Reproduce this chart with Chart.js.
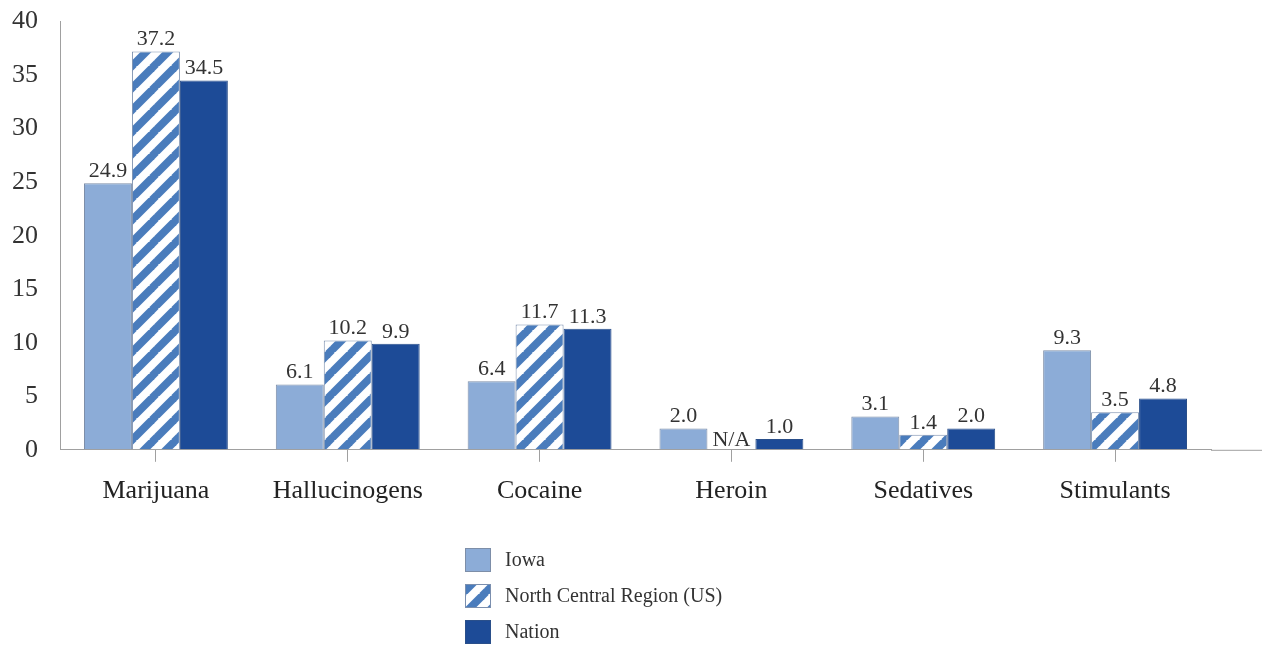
<!DOCTYPE html>
<html>
<head>
<meta charset="utf-8">
<title>Drug use</title>
<script src="https://cdn.jsdelivr.net/npm/chart.js@4/dist/chart.umd.min.js"></script>
<style>
  html, body { margin: 0; padding: 0; background: #fff; }
  #chart { display: block; }
</style>
</head>
<body>
<canvas id="chart" width="1262" height="648"></canvas>
<script>
const categories = ['Marijuana', 'Hallucinogens', 'Cocaine', 'Heroin', 'Sedatives', 'Stimulants'];
const iowa = [24.9, 6.1, 6.4, 2.0, 3.1, 9.3];
const northCentral = [37.2, 10.2, 11.7, null, 1.4, 3.5];   // no heroin figure for the region
const nation = [34.5, 9.9, 11.3, 1.0, 2.0, 4.8];
const seriesNames = ['Iowa', 'North Central Region (US)', 'Nation'];
const yMax = 40;
const yStep = 5;

const serif = "'Liberation Serif', 'Times New Roman', serif";
const axisGray = '#a0a0a0';

// diagonal "/" stripes, blue on white
function stripes(fg, bg, size) {
    const c = document.createElement('canvas');
    c.width = size;
    c.height = size;
    const g = c.getContext('2d');
    g.fillStyle = bg;
    g.fillRect(0, 0, size, size);
    g.strokeStyle = fg;
    g.lineWidth = size / (2 * Math.SQRT2);
    for (let k = -1; k <= 1; k++) {
        g.beginPath();
        g.moveTo(k * size - 2, size + 2);
        g.lineTo(k * size + size + 2, -2);
        g.stroke();
    }
    return g.createPattern(c, 'repeat');
}

const ctx = document.getElementById('chart').getContext('2d');
const stripeFill = stripes('#4a7cbc', '#ffffff', 22);

// numbers above each bar, N/A where there is no value
const valueLabels = {
    id: 'valueLabels',
    afterDatasetsDraw(chart) {
        const c = chart.ctx;
        c.save();
        c.font = '22px ' + serif;
        c.fillStyle = '#333';
        c.textAlign = 'center';
        c.textBaseline = 'bottom';
        chart.data.datasets.forEach((ds, i) => {
            chart.getDatasetMeta(i).data.forEach((bar, j) => {
                const v = ds.data[j];
                if (v === null) {
                    c.fillText('N/A', bar.x, chart.scales.y.getPixelForValue(0) + 1);
                } else {
                    c.fillText(v.toFixed(1), bar.x, bar.y - 1);
                }
            });
        });
        c.restore();
    }
};

// baseline runs on past the last category, legend stacked under the axis
const extras = {
    id: 'extras',
    afterDraw(chart) {
        const c = chart.ctx;
        const area = chart.chartArea;
        c.save();
        c.strokeStyle = axisGray;
        c.lineWidth = 1;
        c.beginPath();
        c.moveTo(area.right, area.bottom + 0.5);
        c.lineTo(chart.width, area.bottom + 0.5);
        c.stroke();

        c.font = '20px ' + serif;
        c.textAlign = 'left';
        c.textBaseline = 'middle';
        chart.data.datasets.forEach((ds, i) => {
            const y = 560 + i * 36;
            c.fillStyle = ds.backgroundColor;
            c.fillRect(465, y - 12, 26, 24);
            c.strokeStyle = ds.borderColor;
            c.strokeRect(465.5, y - 11.5, 25, 23);
            c.fillStyle = '#333';
            c.fillText(ds.label, 505, y + 1);
        });
        c.restore();
    }
};

const drugChart = new Chart(ctx, {
    type: 'bar',
    data: {
        labels: categories,
        datasets: [{
            label: seriesNames[0],
            data: iowa,
            backgroundColor: '#8cacd7',
            borderColor: '#7d8ea8',
            borderWidth: 1
        }, {
            label: seriesNames[1],
            data: northCentral,
            backgroundColor: stripeFill,
            borderColor: '#7b8fae',
            borderWidth: 1
        }, {
            label: seriesNames[2],
            data: nation,
            backgroundColor: '#1d4b97',
            borderColor: '#2a4f8a',
            borderWidth: 1
        }]
    },
    options: {
        responsive: false,
        animation: false,
        devicePixelRatio: 1,
        categoryPercentage: 0.75,
        barPercentage: 1.0,
        layout: {
            padding: { top: 0, right: 51, bottom: 127, left: 6 }
        },
        plugins: {
            legend: { display: false },
            tooltip: { enabled: false }
        },
        scales: {
            x: {
                grid: {
                    offset: false,
                    drawOnChartArea: false,
                    tickLength: 12,
                    color: axisGray
                },
                border: { color: axisGray },
                ticks: {
                    font: { family: serif, size: 26 },
                    color: '#222',
                    padding: 14
                }
            },
            y: {
                min: 0,
                max: yMax,
                // invisible tick marks keep the labels clear of the axis line
                grid: {
                    drawOnChartArea: false,
                    color: 'transparent',
                    tickLength: 16
                },
                border: { color: axisGray },
                ticks: {
                    stepSize: yStep,
                    font: { family: serif, size: 26 },
                    color: '#333',
                    padding: 6
                }
            }
        }
    },
    plugins: [valueLabels, extras]
});
</script>
</body>
</html>
